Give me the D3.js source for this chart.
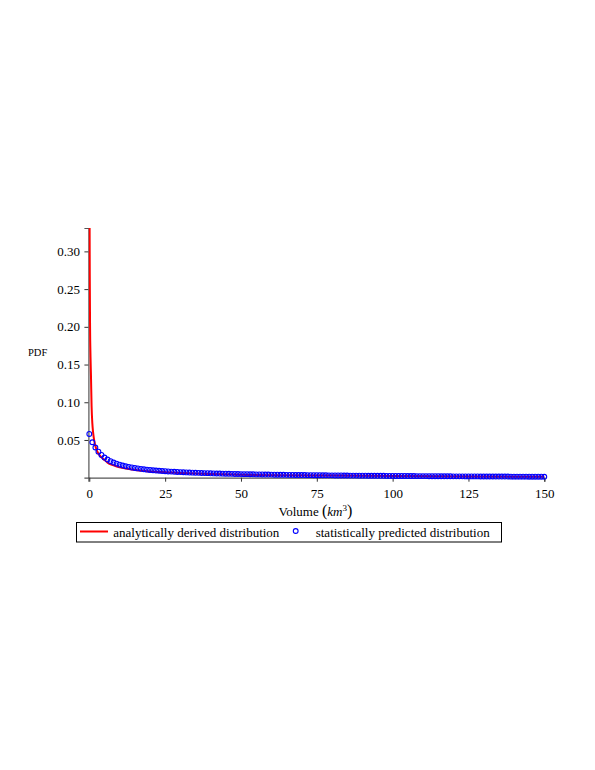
<!DOCTYPE html>
<html>
<head>
<meta charset="utf-8">
<script src="https://cdn.jsdelivr.net/npm/d3@7"></script>
<style>
  body { margin: 0; background: #fff; }
  svg { display: block; }
  text { font-family: "Liberation Serif", "Times New Roman", serif; fill: #000; }
</style>
</head>
<body>
<svg id="chart" width="595" height="770"></svg>
<script>
// ---------- data ----------
const xTicks = [0, 25, 50, 75, 100, 125, 150];
const yTicks = [0.05, 0.10, 0.15, 0.20, 0.25, 0.30];

// analytically derived distribution (red curve)
const analyticX = [0.08, 0.15, 0.25, 0.4, 0.55, 0.75, 1.0, 1.25, 1.5, 2, 2.5, 3, 4, 5, 6, 8, 10, 12.5, 15, 20, 25, 30, 40, 50, 60, 75, 100, 125, 150];
const analyticY = [0.36, 0.27, 0.20, 0.16, 0.135, 0.095, 0.072, 0.060, 0.052, 0.042, 0.036, 0.032, 0.027, 0.0235, 0.020, 0.0165, 0.0138, 0.0118, 0.0103, 0.0083, 0.0072, 0.0063, 0.0048, 0.0040, 0.0034, 0.0029, 0.0022, 0.0016, 0.0012];

// statistically predicted distribution (blue circles), x = 0..150
const statX = d3.range(0, 151);
const statY = [
  0.0580, 0.0470, 0.0400, 0.0345, 0.0302, 0.0268, 0.0241, 0.0219, 0.0201, 0.0186,
  0.0173, 0.0162, 0.0152, 0.0144, 0.0136, 0.0129, 0.0123, 0.0117, 0.0112, 0.0107,
  0.0103, 0.0099, 0.0095, 0.0092, 0.0089, 0.0086, 0.0083, 0.0081, 0.0078, 0.0076,
  0.0074, 0.0072, 0.0070, 0.0068, 0.0067, 0.0065, 0.0064, 0.0062, 0.0061, 0.0060,
  0.0058, 0.0057, 0.0056, 0.0055, 0.0054, 0.0053, 0.0052, 0.0051, 0.0050, 0.0049,
  0.0048, 0.0047, 0.0047, 0.0046, 0.0045, 0.0044, 0.0044, 0.0043, 0.0042, 0.0042,
  0.0041, 0.0040, 0.0040, 0.0039, 0.0039, 0.0038, 0.0037, 0.0037, 0.0036, 0.0036,
  0.0035, 0.0035, 0.0034, 0.0034, 0.0033, 0.0033, 0.0033, 0.0032, 0.0032, 0.0031,
  0.0031, 0.0030, 0.0030, 0.0030, 0.0029, 0.0029, 0.0028, 0.0028, 0.0028, 0.0027,
  0.0027, 0.0027, 0.0026, 0.0026, 0.0026, 0.0025, 0.0025, 0.0025, 0.0024, 0.0024,
  0.0024, 0.0023, 0.0023, 0.0023, 0.0023, 0.0022, 0.0022, 0.0022, 0.0021, 0.0021,
  0.0021, 0.0021, 0.0020, 0.0020, 0.0020, 0.0020, 0.0019, 0.0019, 0.0019, 0.0019,
  0.0018, 0.0018, 0.0018, 0.0018, 0.0017, 0.0017, 0.0017, 0.0017, 0.0017, 0.0016,
  0.0016, 0.0016, 0.0016, 0.0016, 0.0015, 0.0015, 0.0015, 0.0015, 0.0015, 0.0014,
  0.0014, 0.0014, 0.0014, 0.0014, 0.0014, 0.0013, 0.0013, 0.0013, 0.0013, 0.0013,
  0.0012
];

const legendLabels = ["analytically derived distribution", "statistically predicted distribution"];

// ---------- scales ----------
const svg = d3.select("#chart");
const x = d3.scaleLinear().domain([-0.3, 150]).range([88.4, 544.3]);
const y = d3.scaleLinear().domain([0, 0.331]).range([477.7, 228]);

svg.append("clipPath").attr("id", "plotclip")
  .append("rect")
  .attr("x", x.range()[0]).attr("y", y.range()[1])
  .attr("width", x.range()[1] - x.range()[0] + 10)
  .attr("height", y.range()[0] - y.range()[1]);

const tickFont = "13px";

// ---------- axes ----------
const yAxis = d3.axisLeft(y).tickValues(yTicks).tickSize(4).tickPadding(4.5)
  .tickFormat(d3.format(".2f"));
const gy = svg.append("g").attr("transform", `translate(${x.range()[0]},0)`).call(yAxis);
gy.select(".domain").attr("stroke", "#555").attr("stroke-width", 1.2);
gy.selectAll(".tick line").attr("stroke", "#333");
gy.selectAll(".tick text").style("font-family", '"Liberation Serif", serif').style("font-size", tickFont).attr("fill", "#000");

const xAxis = d3.axisBottom(x).tickValues(xTicks).tickSize(4).tickPadding(7)
  .tickFormat(d3.format("d"));
const gx = svg.append("g").attr("transform", `translate(0,${y.range()[0]})`).call(xAxis);
gx.select(".domain").attr("stroke", "#555").attr("stroke-width", 1.2);
gx.selectAll(".tick line").attr("stroke", "#333");
gx.selectAll(".tick text").style("font-family", '"Liberation Serif", serif').style("font-size", tickFont).attr("fill", "#000");

// ---------- series ----------
const plot = svg.append("g").attr("clip-path", "url(#plotclip)");
const redPts = analyticX.map((v, i) => [v, analyticY[i]]);
plot.append("path")
  .datum(redPts)
  .attr("fill", "none")
  .attr("stroke", "#ff0000")
  .attr("stroke-width", 2)
  .attr("d", d3.line().x(d => x(d[0])).y(d => y(d[1])).curve(d3.curveMonotoneX));

const bluePts = statX.map((v, i) => [v, statY[i]]);
svg.append("g").selectAll("circle")
  .data(bluePts)
  .join("circle")
  .attr("cx", d => x(d[0]))
  .attr("cy", d => y(d[1]))
  .attr("r", 2.4)
  .attr("fill", "none")
  .attr("stroke", "#0000ff")
  .attr("stroke-width", 1.1);

// ---------- axis titles ----------
svg.append("text").attr("x", 28).attr("y", 356)
  .style("font-size", "10.5px").text("PDF");

const xl = svg.append("text").attr("x", 278.5).attr("y", 516).style("font-size", "13px");
xl.append("tspan").text("Volume ");
xl.append("tspan").style("font-size", "16px").text("(");
xl.append("tspan").style("font-style", "italic").text("km");
xl.append("tspan").attr("dy", -5).style("font-size", "9px").text("3");
xl.append("tspan").attr("dy", 5).style("font-size", "16px").text(")");

// ---------- legend ----------
const lg = svg.append("g");
lg.append("rect").attr("x", 76.5).attr("y", 522.5).attr("width", 425).attr("height", 19.5)
  .attr("fill", "#fff").attr("stroke", "#000").attr("stroke-width", 1);
lg.append("line").attr("x1", 80).attr("x2", 108).attr("y1", 531.5).attr("y2", 531.5)
  .attr("stroke", "#ff0000").attr("stroke-width", 2);
lg.append("text").attr("x", 113.3).attr("y", 536.5).style("font-size", "13px").text(legendLabels[0]);
lg.append("circle").attr("cx", 295.7).attr("cy", 531).attr("r", 2.4)
  .attr("fill", "none").attr("stroke", "#0000ff").attr("stroke-width", 1.1);
lg.append("text").attr("x", 315.7).attr("y", 536.5).style("font-size", "13px").text(legendLabels[1]);
</script>
</body>
</html>
